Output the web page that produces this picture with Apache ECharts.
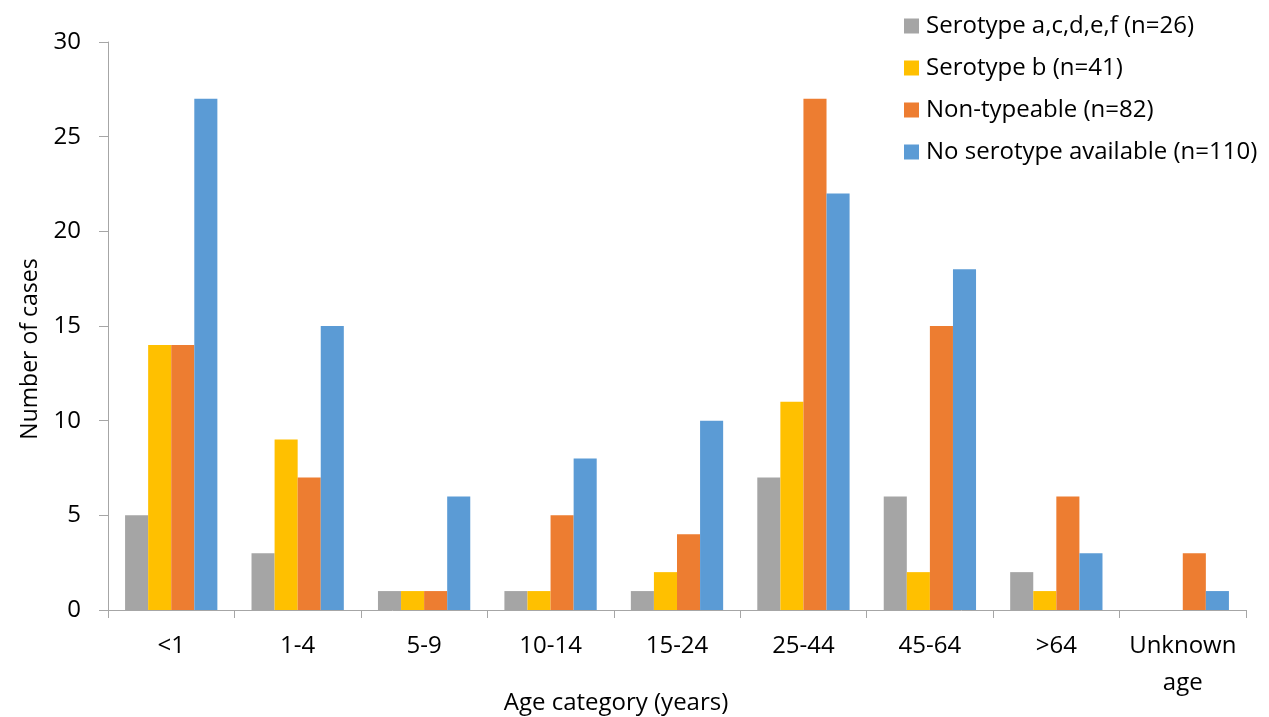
<!DOCTYPE html>
<html>
<head>
<meta charset="utf-8">
<script src="https://cdn.jsdelivr.net/npm/echarts@6/dist/echarts.min.js"></script>
<style>
  html, body { margin: 0; padding: 0; background: #fff; }
  #chart { width: 1269px; height: 717px; }
</style>
</head>
<body>
<div id="chart"></div>
<script>
// Age groups and case counts per serotype group
const categories = ['<1', '1-4', '5-9', '10-14', '15-24', '25-44', '45-64', '>64', 'Unknown\nage'];
const serotypeACDEF = [5, 3, 1, 1, 1, 7, 6, 2, 0];
const serotypeB = [14, 9, 1, 1, 2, 11, 2, 1, 0];
const nonTypeable = [14, 7, 1, 5, 4, 27, 15, 6, 3];
const noSerotype = [27, 15, 6, 8, 10, 22, 18, 3, 1];
const seriesNames = [
  'Serotype a,c,d,e,f (n=26)',
  'Serotype b (n=41)',
  'Non-typeable (n=82)',
  'No serotype available (n=110)'
];
const yTicks = [0, 5, 10, 15, 20, 25, 30];
const colors = ['#A5A5A5', '#FFC000', '#ED7D31', '#5B9BD5'];
const FONT = 'Open Sans';
const axisGray = '#A6A6A6';

const chart = echarts.init(document.getElementById('chart'), null, { renderer: 'canvas' });

const seriesData = [serotypeACDEF, serotypeB, nonTypeable, noSerotype];

chart.setOption({
  animation: false,
  color: colors,
  textStyle: { fontFamily: FONT },
  grid: { left: 108, right: 23, top: 42, bottom: 107 },
  legend: {
    orient: 'vertical',
    left: 904,
    top: 14,
    padding: 0,
    itemWidth: 15,
    itemHeight: 15,
    itemGap: 18,
    icon: 'rect',
    textStyle: { fontFamily: FONT, fontSize: 24, lineHeight: 24, color: '#000', padding: [0, 0, 0, 2] },
    data: seriesNames
  },
  xAxis: {
    type: 'category',
    data: categories,
    axisLine: { lineStyle: { color: axisGray, width: 1 } },
    axisTick: { show: true, length: 8, lineStyle: { color: axisGray } },
    axisLabel: {
      interval: 0,
      hideOverlap: false,
      fontFamily: FONT,
      fontSize: 24,
      color: '#000',
      margin: 18,
      lineHeight: 37
    }
  },
  yAxis: {
    type: 'value',
    min: yTicks[0],
    max: yTicks[yTicks.length - 1],
    interval: yTicks[1] - yTicks[0],
    name: 'Number of cases',
    nameLocation: 'middle',
    nameGap: 66,
    // extra space on the far end nudges the title down the axis
    nameTextStyle: { fontFamily: FONT, fontSize: 23, color: '#000', padding: [0, 46, 0, 0] },
    axisLine: { show: true, lineStyle: { color: axisGray, width: 1 } },
    axisTick: { show: true, length: 9, inside: false, lineStyle: { color: axisGray } },
    splitLine: { show: false },
    axisLabel: { fontFamily: FONT, fontSize: 24, color: '#000', margin: 27 }
  },
  graphic: [{
    type: 'text',
    x: 616,
    y: 703,
    style: {
      text: 'Age category (years)',
      font: '24px "Open Sans"',
      fill: '#000',
      align: 'center',
      verticalAlign: 'middle'
    }
  }],
  series: seriesNames.map((name, i) => ({
    name,
    type: 'bar',
    data: seriesData[i],
    barGap: '0%',
    barCategoryGap: '27%',
    itemStyle: { color: colors[i] }
  }))
});
</script>
</body>
</html>
